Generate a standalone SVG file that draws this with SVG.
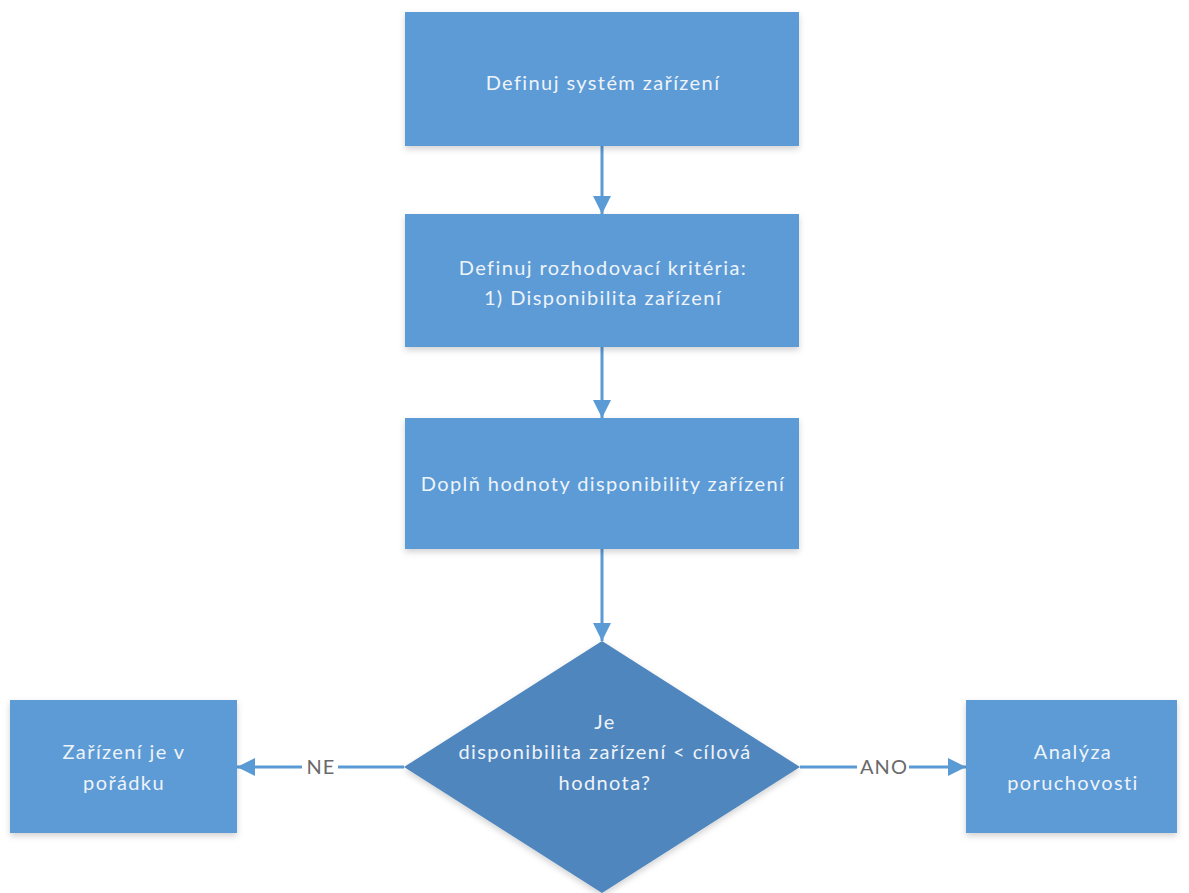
<svg xmlns="http://www.w3.org/2000/svg" width="1189" height="893" viewBox="0 0 1189 893">
<defs>
<style>
.box{fill:#5B9BD5;filter:url(#sh)}
.dia{fill:#4F86BE;filter:url(#sh)}
.t{font-family:Lato,"Open Sans","Liberation Sans",sans-serif;font-size:20px;letter-spacing:1.4px;fill:#EEF3FA;text-anchor:middle}
.lbl{font-family:Lato,"Open Sans","Liberation Sans",sans-serif;font-size:20px;letter-spacing:1px;fill:#6A6A6A;text-anchor:middle}
.con{stroke:#5B9BD5;stroke-width:3;fill:none;marker-end:url(#ah)}
</style>
<marker id="ah" viewBox="0 0 10 10" refX="10" refY="5" markerWidth="6" markerHeight="6" markerUnits="strokeWidth" orient="auto">
<path d="M0,0 L10,5 L0,10 z" fill="#5B9BD5"/>
</marker>
<filter id="sh" x="-10%" y="-10%" width="120%" height="130%">
<feDropShadow dx="0" dy="3" stdDeviation="3" flood-color="#000" flood-opacity="0.18"/>
</filter>
</defs>
<rect width="1189" height="893" fill="#ffffff"/>
<g id="connectors">
<line class="con" x1="602" y1="146" x2="602" y2="214"/>
<line class="con" x1="602" y1="347" x2="602" y2="418"/>
<line class="con" x1="602" y1="549" x2="602" y2="641"/>
<line class="con" x1="404" y1="767" x2="237" y2="767"/>
<line class="con" x1="800" y1="767" x2="966" y2="767"/>
<rect x="302" y="754" width="36" height="26" fill="#fff"/>
<text class="lbl" x="321" y="774">NE</text>
<rect x="857" y="754" width="52" height="26" fill="#fff"/>
<text class="lbl" x="884" y="774">ANO</text>
</g>
<g id="n1">
<rect class="box" x="405" y="12" width="394" height="134"/>
<text class="t" x="603" y="90">Definuj systém zařízení</text>
</g>
<g id="n2">
<rect class="box" x="405" y="214" width="394" height="133"/>
<text class="t" x="603" y="275">Definuj rozhodovací kritéria:</text>
<text class="t" x="603" y="305">1) Disponibilita zařízení</text>
</g>
<g id="n3">
<rect class="box" x="405" y="418" width="394" height="131"/>
<text class="t" x="603" y="491">Doplň hodnoty disponibility zařízení</text>
</g>
<g id="n4">
<polygon class="dia" points="602,641 800,767 602,893 404,767"/>
<text class="t" x="605" y="729">Je</text>
<text class="t" x="605" y="759">disponibilita zařízení &lt; cílová</text>
<text class="t" x="605" y="790">hodnota?</text>
</g>
<g id="n5">
<rect class="box" x="10" y="700" width="227" height="133"/>
<text class="t" x="124" y="759">Zařízení je v</text>
<text class="t" x="124" y="790">pořádku</text>
</g>
<g id="n6">
<rect class="box" x="966" y="700" width="211" height="133"/>
<text class="t" x="1073" y="759">Analýza</text>
<text class="t" x="1073" y="790">poruchovosti</text>
</g>
</svg>
